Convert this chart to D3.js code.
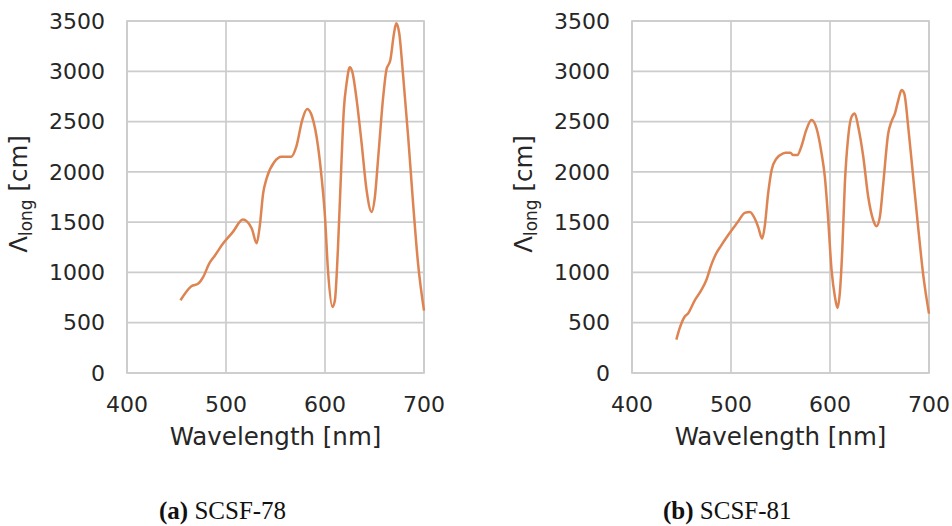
<!DOCTYPE html>
<html>
<head>
<meta charset="utf-8">
<script src="https://cdn.jsdelivr.net/npm/d3@7"></script>
<style>
  body { margin: 0; background: #ffffff; }
  svg { display: block; }
  .tick-label { font-family: "DejaVu Sans", sans-serif; font-size: 22px; fill: #262626; }
  .axis-title { font-family: "DejaVu Sans", sans-serif; font-size: 24.5px; fill: #262626; }
  .caption { font-family: "Liberation Serif", serif; font-size: 25px; fill: #111; }
</style>
</head>
<body>
<div id="chart"></div>
<script>
// wavelength [nm] and Lambda_long [cm]

var wl78 = [454, 465, 472, 477, 483, 489, 497, 507, 517, 526, 531, 534, 537.5, 541, 549, 556, 566, 571, 577, 582, 587, 593, 596.5, 600, 603, 607.6, 610, 613, 616.7, 619, 621.8, 625, 627.5, 632, 637, 642, 647, 650.4, 653.8, 658.8, 662, 666, 669.7, 672, 675, 679, 684, 689, 694, 700];
var lam78 = [723, 863, 889, 955, 1088, 1171, 1287, 1403, 1526, 1437, 1290, 1453, 1785, 1934, 2100, 2150, 2150, 2250, 2515, 2624, 2548, 2250, 1951, 1553, 1022, 657, 723, 1221, 2117, 2614, 2880, 3039, 2996, 2714, 2283, 1818, 1602, 1752, 2150, 2747, 3013, 3112, 3377, 3477, 3377, 2946, 2349, 1685, 1088, 620];

var wl81 = [444.8, 448, 453, 456.6, 463.4, 470, 475, 480, 485, 490, 497, 507, 513.8, 519, 524, 527.4, 531.5, 534, 537.5, 541, 546, 552.7, 555, 560, 562.8, 567, 571, 576, 581.3, 586.4, 591.5, 594.8, 598, 601.6, 605, 607.6, 610, 612.4, 615, 618.4, 621.8, 625, 628.5, 633.6, 638.6, 643.7, 647, 650.4, 653.8, 658.8, 662, 665.6, 669, 672.3, 675, 679, 684, 689, 694, 700];
var lam81 = [332, 441, 557, 591, 723, 823, 922, 1072, 1188, 1267, 1370, 1503, 1592, 1602, 1536, 1453, 1337, 1453, 1785, 2017, 2133, 2183, 2190, 2190, 2167, 2167, 2250, 2415, 2515, 2432, 2183, 1951, 1553, 1022, 756, 647, 806, 1221, 1884, 2349, 2548, 2581, 2448, 2150, 1752, 1519, 1460, 1553, 1884, 2382, 2498, 2581, 2714, 2813, 2780, 2448, 1951, 1453, 989, 590];

var xTicks = [400, 500, 600, 700];
var yTicks = [0, 500, 1000, 1500, 2000, 2500, 3000, 3500];

var panels = [
    { wl: wl78, lam: lam78, left: 127, capX: 159, tag: "(a)", name: "SCSF-78" },
    { wl: wl81, lam: lam81, left: 632, capX: 663, tag: "(b)", name: "SCSF-81" }
];

var width = 952, height = 526;
var plotW = 297, plotTop = 21, plotBottom = 373;
var lineColor = "#dd8452", gridColor = "#cccccc";

var svg = d3.select("#chart").append("svg")
    .attr("width", width)
    .attr("height", height);

panels.forEach(function(p) {
    var x = d3.scaleLinear().domain([400, 700]).range([p.left, p.left + plotW]);
    var y = d3.scaleLinear().domain([0, 3500]).range([plotBottom, plotTop]);

    var g = svg.append("g");

    // grid
    g.selectAll(".vgrid").data(xTicks).enter().append("line")
        .attr("x1", function(d) { return x(d); }).attr("x2", function(d) { return x(d); })
        .attr("y1", plotTop).attr("y2", plotBottom)
        .attr("stroke", gridColor).attr("stroke-width", 1.7);
    g.selectAll(".hgrid").data(yTicks).enter().append("line")
        .attr("y1", function(d) { return y(d); }).attr("y2", function(d) { return y(d); })
        .attr("x1", p.left).attr("x2", p.left + plotW)
        .attr("stroke", gridColor).attr("stroke-width", 1.7);

    // frame
    g.append("rect")
        .attr("x", p.left).attr("y", plotTop)
        .attr("width", plotW).attr("height", plotBottom - plotTop)
        .attr("fill", "none").attr("stroke", gridColor).attr("stroke-width", 1.7);

    // tick labels
    g.selectAll(".xt").data(xTicks).enter().append("text")
        .attr("class", "tick-label")
        .attr("x", function(d) { return x(d); })
        .attr("y", plotBottom + 39)
        .attr("text-anchor", "middle")
        .text(function(d) { return d; });
    g.selectAll(".yt").data(yTicks).enter().append("text")
        .attr("class", "tick-label")
        .attr("x", p.left - 22)
        .attr("y", function(d) { return y(d); })
        .attr("dy", "0.35em")
        .attr("text-anchor", "end")
        .text(function(d) { return d; });

    // axis titles
    g.append("text")
        .attr("class", "axis-title")
        .attr("x", p.left + plotW / 2)
        .attr("y", plotBottom + 72)
        .attr("text-anchor", "middle")
        .text("Wavelength [nm]");

    var yt = g.append("text")
        .attr("class", "axis-title")
        .attr("transform", "translate(" + (p.left - 100) + "," + 194 + ") rotate(-90)")
        .attr("text-anchor", "middle");
    yt.append("tspan").text("Λ");
    yt.append("tspan").attr("dy", 5).style("font-size", "17px").text("long");
    yt.append("tspan").attr("dy", -5).text(" [cm]");

    // curve
    var line = d3.line()
        .x(function(d, i) { return x(p.wl[i]); })
        .y(function(d, i) { return y(p.lam[i]); })
        .curve(d3.curveMonotoneX);
    g.append("path")
        .datum(p.lam)
        .attr("d", line)
        .attr("fill", "none")
        .attr("stroke", lineColor)
        .attr("stroke-width", 2.5)
        .attr("stroke-linejoin", "round");

    // caption
    var cap = g.append("text")
        .attr("class", "caption")
        .attr("x", p.capX)
        .attr("y", 519);
    cap.append("tspan").style("font-weight", "bold").text(p.tag);
    cap.append("tspan").text(" " + p.name);
});
</script>
</body>
</html>
